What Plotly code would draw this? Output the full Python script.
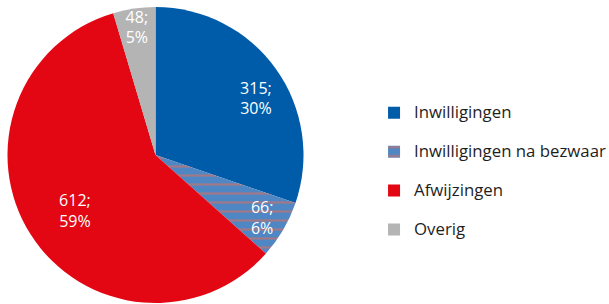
import plotly.graph_objects as go

categories = ["Inwilligingen", "Inwilligingen na bezwaar", "Afwijzingen", "Overig"]
values = [315, 66, 612, 48]
percent_labels = ["30%", "6%", "59%", "5%"]

colors = ["#005ca9", "#4f86c4", "#e30613", "#b4b4b4"]
shapes = ["", "-", "", ""]
fgcolors = ["#005ca9", "#f26b4d", "#e30613", "#b4b4b4"]

texts = [f"{v};<br>{p}" for v, p in zip(values, percent_labels)]
legend_names = [f"<span style='font-size:16.8px'>{c}</span><br> " for c in categories]

domain = dict(x=[7.5/609, 303.5/609], y=[1/304, 297/304])
textfont = dict(family="Open Sans", size=16, color="white")

# which label is drawn by which layer (main pie, or a transparent overlay ring that sets label placement)
layer_of_label = [1, 0, 2, 0]
layer_holes = [0, 0.56, 0.32]
layer_rotations = [0, 6, -2]

fig = go.Figure()
for layer, (hole, rot) in enumerate(zip(layer_holes, layer_rotations)):
    layer_text = [t if layer_of_label[i] == layer else "" for i, t in enumerate(texts)]
    if layer == 0:
        marker = dict(
            colors=colors,
            line=dict(width=0),
            pattern=dict(shape=shapes, fgcolor=fgcolors, bgcolor=colors,
                         size=9, solidity=0.25, fillmode="overlay"),
        )
    else:
        marker = dict(colors=["rgba(0,0,0,0)"] * len(values), line=dict(width=0))
    fig.add_trace(go.Pie(
        labels=legend_names,
        values=values,
        text=layer_text,
        textinfo="text",
        textposition="inside",
        insidetextorientation="horizontal",
        sort=False,
        direction="clockwise",
        rotation=rot,
        hole=hole,
        marker=marker,
        textfont=textfont,
        domain=domain,
        showlegend=(layer == 0),
        hoverinfo="value+percent" if layer == 0 else "skip",
    ))

fig.update_layout(
    width=609, height=304,
    margin=dict(l=0, r=0, t=0, b=0, autoexpand=False),
    paper_bgcolor="white",
    plot_bgcolor="white",
    showlegend=True,
    uniformtext=dict(minsize=16, mode="show"),
    legend=dict(
        x=0.6142, y=0.68, xanchor="left", yanchor="top",
        font=dict(family="Open Sans", size=13.8, color="#1e1e1e"),
        valign="top",
        itemclick=False,
        itemdoubleclick=False,
    ),
)

fig.write_html("out.html", config={"displayModeBar": False},
               post_script="document.body.style.margin='0';")
